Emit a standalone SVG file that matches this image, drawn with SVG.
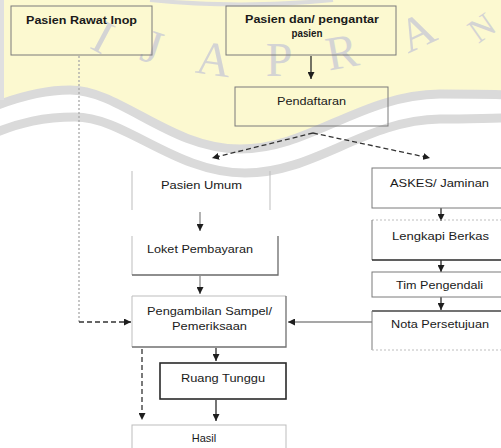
<svg xmlns="http://www.w3.org/2000/svg" width="501" height="448" viewBox="0 0 501 448">
  <style>
    .lbl { font-family: "Liberation Sans", Arial, sans-serif; font-size: 11px; fill: #1a1a1a; text-anchor: middle; }
    .bold { font-weight: bold; }
    .wm { font-family: "Liberation Serif", "Times New Roman", serif; font-size: 48px; fill: #d4d4d4; text-anchor: middle; }
    .band { fill: none; stroke: #dadada; stroke-width: 9; }
    .box { fill: none; stroke: #7a7a7a; stroke-width: 1; }
    .soft { fill: none; stroke: #bdbdbd; stroke-width: 1; }
    .dark { fill: none; stroke: #2a2a2a; stroke-width: 1.6; }
    .edge { fill: none; stroke: #2a2a2a; stroke-width: 1.3; }
    .edge-grey { fill: none; stroke: #8a8a8a; stroke-width: 1.3; }
    .dash { fill: none; stroke: #333; stroke-width: 1.3; stroke-dasharray: 5 3; }
    .dot { fill: none; stroke: #a8a8a8; stroke-width: 1.3; stroke-dasharray: 2 2; }
  </style>
  <defs>
    <marker id="ah" viewBox="0 0 10 10" refX="10" refY="5" markerWidth="7" markerHeight="7" markerUnits="userSpaceOnUse" orient="auto">
      <path d="M0,0 L10,5 L0,10 z" fill="#1e1e1e"/>
    </marker>
  </defs>

  <!-- background watermark -->
  <rect x="0" y="0" width="501" height="448" fill="#ffffff"/>
  <g id="watermark">
    <path d="M-10,108 C20,96 45,90 70,90 C120,90 170,149 240,149 C310,149 360,95 440,94 C470,94 490,94 510,95 L510,-10 L-10,-10 Z" fill="#fcf9d0"/>
    <path class="band" d="M-10,108 C20,96 45,90 70,90 C120,90 170,149 240,149 C310,149 360,95 440,94 C470,94 490,94 510,95"/>
    <path class="band" d="M-10,135 C20,122 45,117 75,117 C125,117 175,173 245,173 C315,173 365,120 440,119 C470,119 490,118 510,118"/>
    <path d="M150,0 Q240,9 333,0" fill="none" stroke="#dcdcdc" stroke-width="4"/>
    <path d="M2,0 L2,100" fill="none" stroke="#e0e0e0" stroke-width="4"/>
    <text class="wm" transform="translate(103,37) rotate(28)" y="16">I</text>
    <text class="wm" transform="translate(152,47) rotate(18)" y="16">J</text>
    <text class="wm" transform="translate(214,59) rotate(8)" y="16">A</text>
    <text class="wm" transform="translate(279,60)" y="16">P</text>
    <text class="wm" transform="translate(342,52) rotate(-10)" y="16">R</text>
    <text class="wm" transform="translate(417,32) rotate(-25)" y="16">A</text>
    <text class="wm" transform="translate(482,28) rotate(-35)" y="11" style="font-size:34px">N</text>
  </g>

  <!-- connectors -->
  <g id="connectors">
    <path class="edge" d="M311,56 L311,79" marker-end="url(#ah)"/>
    <path class="dash" d="M313,133 L212,158" marker-end="url(#ah)"/>
    <path class="dash" d="M313,133 L430,158" marker-end="url(#ah)"/>
    <path class="edge-grey" d="M200,212 L200,231" marker-end="url(#ah)"/>
    <path class="edge-grey" d="M200,276 L200,294" marker-end="url(#ah)"/>
    <path class="edge-grey" d="M372,322 L288,322" marker-end="url(#ah)"/>
    <path class="dot" d="M79,56 L79,322"/>
    <path class="dash" d="M79,322 L131,322" marker-end="url(#ah)"/>
    <path class="edge" d="M216,348 L216,361" marker-end="url(#ah)"/>
    <path class="edge" d="M216,400 L216,421" marker-end="url(#ah)"/>
    <path class="dash" d="M142,349 L142,420" marker-end="url(#ah)"/>
    <path class="edge" d="M441,208 L441,221" marker-end="url(#ah)"/>
    <path class="edge" d="M441,260 L441,272" marker-end="url(#ah)"/>
    <path class="edge" d="M441,297 L441,310" marker-end="url(#ah)"/>
  </g>

  <!-- nodes -->
  <g id="rawat-inap">
    <rect class="box" x="11" y="6" width="141" height="49"/>
    <text class="lbl bold" x="81.5" y="24" textLength="111" lengthAdjust="spacingAndGlyphs">Pasien Rawat Inop</text>
  </g>
  <g id="pasien-pengantar">
    <rect class="box" x="226" y="6" width="170" height="49" stroke="#9a9a9a"/>
    <text class="lbl bold" x="312" y="23" textLength="134" lengthAdjust="spacingAndGlyphs">Pasien dan/ pengantar</text>
    <text class="lbl bold" x="307" y="37" style="font-size:10px" textLength="31" lengthAdjust="spacingAndGlyphs">pasien</text>
  </g>
  <g id="pendaftaran">
    <rect class="box" x="235" y="87" width="153" height="39" stroke="#a0a0a0"/>
    <text class="lbl" x="311.5" y="105" textLength="69" lengthAdjust="spacingAndGlyphs">Pendaftaran</text>
  </g>
  <g id="pasien-umum">
    <path class="soft" d="M132,171 L132,210 M270,171 L270,210"/>
    <text class="lbl" x="201.5" y="189" textLength="81" lengthAdjust="spacingAndGlyphs">Pasien Umum</text>
  </g>
  <g id="loket">
    <path class="soft" d="M132,236 L132,275"/>
    <path fill="none" stroke="#6a6a6a" stroke-width="1.3" d="M132,275 L278,275 L278,236"/>
    <text class="lbl" x="200" y="253" textLength="106" lengthAdjust="spacingAndGlyphs">Loket Pembayaran</text>
  </g>
  <g id="pengambilan">
    <path class="soft" d="M132,347 L132,296 L286,296"/>
    <path fill="none" stroke="#707070" stroke-width="1.3" d="M286,296 L286,347 L132,347"/>
    <text class="lbl" x="209.5" y="315" textLength="125" lengthAdjust="spacingAndGlyphs">Pengambilan Sampel/</text>
    <text class="lbl" x="209.5" y="330" textLength="75" lengthAdjust="spacingAndGlyphs">Pemeriksaan</text>
  </g>
  <g id="ruang-tunggu">
    <rect class="dark" x="160" y="363" width="126" height="36"/>
    <text class="lbl" x="223" y="382" textLength="84" lengthAdjust="spacingAndGlyphs">Ruang Tunggu</text>
  </g>
  <g id="hasil">
    <rect class="soft" x="132" y="425" width="154" height="40"/>
    <text class="lbl" x="204" y="442">Hasil</text>
  </g>
  <g id="askes">
    <rect class="box" x="372" y="168" width="140" height="40" stroke="#555"/>
    <text class="lbl" x="439.5" y="187" textLength="99" lengthAdjust="spacingAndGlyphs">ASKES/ Jaminan</text>
  </g>
  <g id="lengkapi">
    <path class="soft" d="M510,220 L372,220" stroke-dasharray="2 2"/>
    <path class="box" d="M372,220 L372,260"/>
    <path class="dark" d="M372,260 L510,260"/>
    <text class="lbl" x="440.5" y="240" textLength="97" lengthAdjust="spacingAndGlyphs">Lengkapi Berkas</text>
  </g>
  <g id="tim-pengendali">
    <rect class="box" x="372" y="272" width="140" height="25" stroke="#666"/>
    <text class="lbl" x="439.5" y="289" textLength="87" lengthAdjust="spacingAndGlyphs">Tim Pengendali</text>
  </g>
  <g id="nota">
    <path fill="none" stroke="#444" stroke-width="1.3" d="M510,311 L372,311"/>
    <path class="box" d="M372,311 L372,350"/>
    <path class="soft" d="M372,350 L510,350" stroke-dasharray="2 2"/>
    <text class="lbl" x="440" y="328" textLength="98" lengthAdjust="spacingAndGlyphs">Nota Persetujuan</text>
  </g>
</svg>
